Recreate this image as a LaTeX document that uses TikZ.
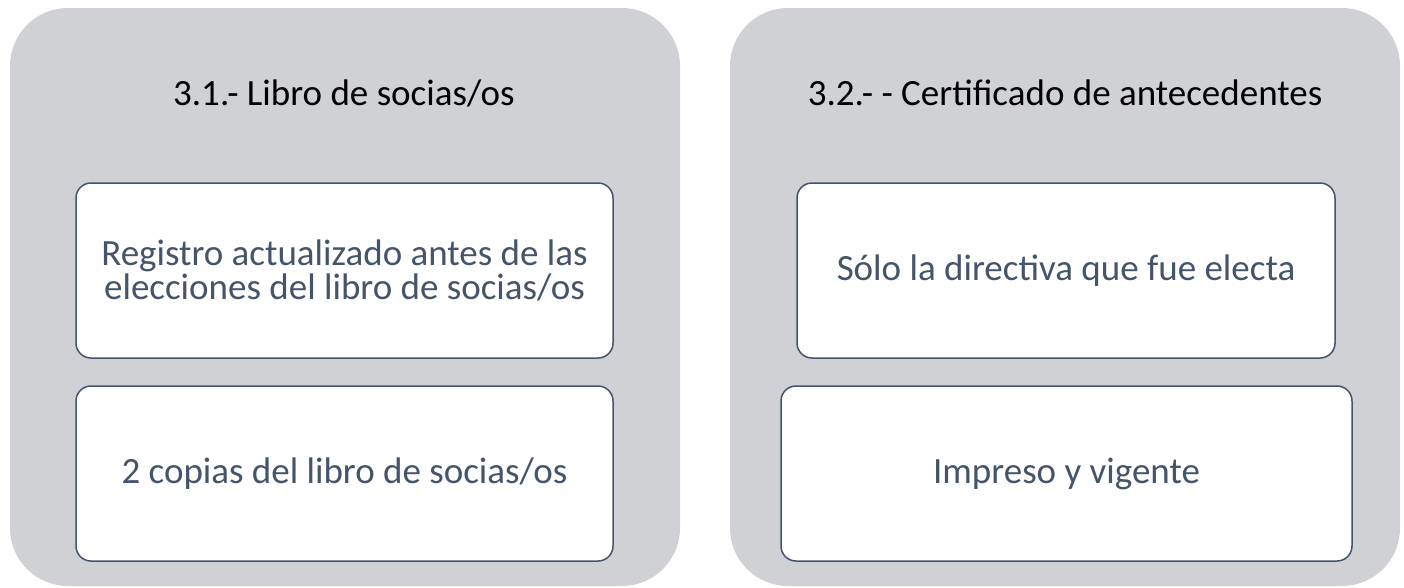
\documentclass[tikz,border=0pt]{standalone}
\usepackage{fontspec}
\setmainfont{Carlito}
\definecolor{panelgray}{HTML}{D0D1D5}
\definecolor{slate}{HTML}{44546A}

\begin{document}
\begin{tikzpicture}[x=1pt,y=-1pt,
	panel/.style={fill=panelgray,rounded corners=58pt,minimum width=670pt,minimum height=578pt,inner sep=0pt},
	item/.style={draw=slate,line width=1.5pt,fill=white,rounded corners=15pt,minimum height=175pt,align=center,text=slate,font=\fontsize{37}{34}\selectfont},
	heading/.style={anchor=base,font=\fontsize{37}{40}\selectfont}]
	\useasboundingbox (0,0) rectangle (1404,587);

	\node (libro) [panel] at (345,297) {};
	\node (certificado) [panel] at (1065,297) {};

	\node (librotitle) [heading] at (344,105) {3.1.- Libro de socias/os};
	\node (certtitle) [heading] at (1065,105) {3.2.- - Certificado de antecedentes};

	\node (registro) [item,minimum width=537pt] at (344.5,270.5) {Registro actualizado antes de las\\elecciones del libro de socias/os};
	\node (copias) [item,minimum width=537pt] at (344.5,473.5) {2 copias del libro de socias/os};
	\node (directiva) [item,minimum width=538pt] at (1066,270.5) {Sólo la directiva que fue electa};
	\node (impreso) [item,minimum width=571pt] at (1066.5,473.5) {Impreso y vigente};
\end{tikzpicture}
\end{document}
